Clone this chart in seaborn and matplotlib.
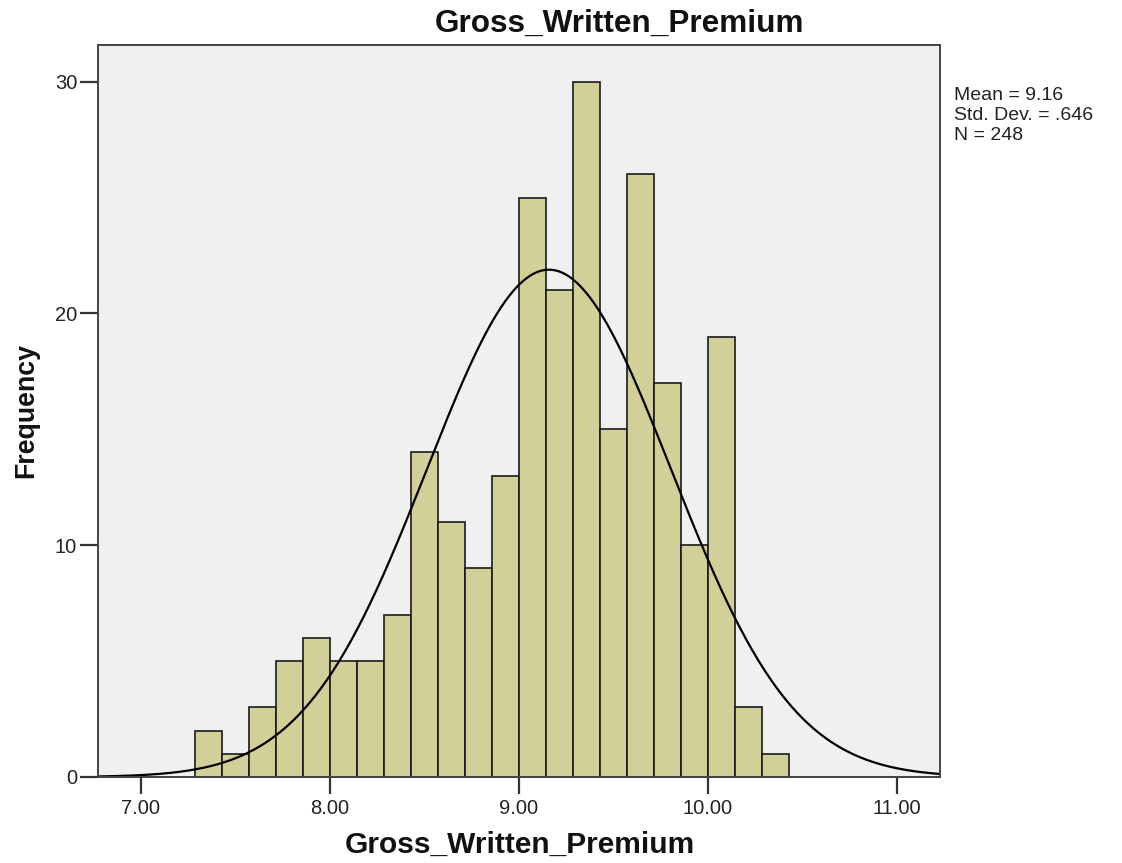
import numpy as np
import pandas as pd
import matplotlib
matplotlib.use("Agg")
import matplotlib.pyplot as plt
import seaborn as sns

# ---- data ----
counts = [2, 1, 3, 5, 6, 5, 5, 7, 14, 11, 9, 13, 25, 21, 30, 15, 26, 17, 10, 19, 3, 1]
bin_start = 7.287
bin_width = 0.1429
mean_val = 9.16
sd_val = 0.646
n_val = 248
x_ticks = [7.0, 8.0, 9.0, 10.0, 11.0]
x_tick_labels = ["7.00", "8.00", "9.00", "10.00", "11.00"]
y_ticks = [0, 10, 20, 30]
title_text = "Gross_Written_Premium"
x_label = "Gross_Written_Premium"
y_label = "Frequency"
stats_lines = ["Mean = 9.16", "Std. Dev. = .646", "N = 248"]

edges = [bin_start + bin_width * i for i in range(len(counts) + 1)]
centers = [(edges[i] + edges[i + 1]) / 2 for i in range(len(counts))]
df = pd.DataFrame({"value": centers, "count": counts})

sns.set_theme(style="white")
plt.rcParams["font.family"] = ["Liberation Sans", "DejaVu Sans"]

W, H = 1122, 863
fig = plt.figure(figsize=(W / 100, H / 100), dpi=100)
ax = fig.add_axes([98 / W, 1 - 777 / H, (940 - 98) / W, (777 - 45) / H])
ax.set_facecolor("#F0F0F0")

sns.histplot(data=df, x="value", weights="count", bins=edges, ax=ax,
             color="#D3CF98", edgecolor="#1a1a1a", linewidth=1.2, alpha=1.0)

xlim = (6.774, 11.229)
xs = np.linspace(xlim[0], xlim[1], 400)
ys = n_val * bin_width / (sd_val * np.sqrt(2 * np.pi)) * np.exp(-0.5 * ((xs - mean_val) / sd_val) ** 2)
sns.lineplot(x=xs, y=ys, ax=ax, color="black", linewidth=1.6)

ax.set_xlim(*xlim)
ax.set_ylim(0, 31.58)
ax.set_xticks(x_ticks)
ax.set_xticklabels(x_tick_labels)
ax.set_yticks(y_ticks)
ax.tick_params(axis="both", which="major", bottom=True, left=True, top=False, right=False,
               direction="out", length=12, width=1.6, color="#333333",
               labelsize=14.5, labelcolor="#222222")
ax.tick_params(axis="x", pad=4)
ax.tick_params(axis="y", pad=2, length=13)
for s in ax.spines.values():
    s.set_visible(True)
    s.set_color("#444444")
    s.set_linewidth(1.4)
ax.set_xlabel("")
ax.set_ylabel("")

fig.text(620 / W, 1 - 32 / H, title_text, ha="center", va="baseline",
         fontsize=22.7, fontweight="bold", color="#111111")
fig.text(520 / W, 1 - 853 / H, x_label, ha="center", va="baseline",
         fontsize=21.5, fontweight="bold", color="#111111")
fig.text(26 / W, 1 - 410 / H, y_label, ha="center", va="center", rotation=90,
         fontsize=19.3, fontweight="bold", color="#111111")
for i, line in enumerate(stats_lines):
    fig.text(954 / W, 1 - (100 + 20 * i) / H, line, ha="left", va="baseline",
             fontsize=14, color="#222222")

fig.savefig("out.png", dpi=100, facecolor="white")
